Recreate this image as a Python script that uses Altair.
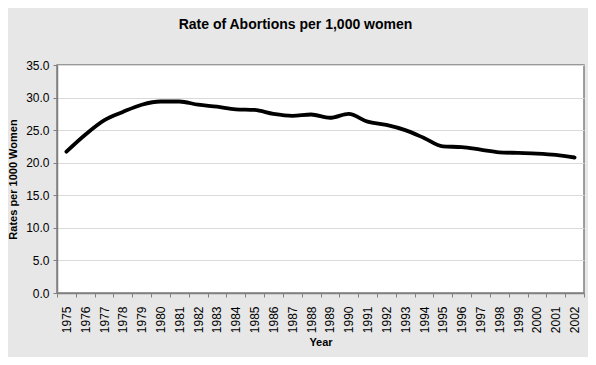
import altair as alt
import pandas as pd

years = ["1975", "1976", "1977", "1978", "1979", "1980", "1981", "1982", "1983", "1984",
         "1985", "1986", "1987", "1988", "1989", "1990", "1991", "1992", "1993", "1994",
         "1995", "1996", "1997", "1998", "1999", "2000", "2001", "2002"]
rates = [21.7, 24.3, 26.5, 27.8, 28.9, 29.4, 29.4, 28.9, 28.6, 28.2,
         28.1, 27.5, 27.2, 27.4, 26.9, 27.5, 26.3, 25.8, 25.0, 23.8,
         22.5, 22.4, 22.0, 21.6, 21.5, 21.4, 21.2, 20.8]
y_ticks = [0, 5, 10, 15, 20, 25, 30, 35]

df = pd.DataFrame({"Year": years, "Rate": rates})

FONT = "Liberation Sans"

chart = alt.Chart(df).mark_line(
    color="black", strokeWidth=3.8, interpolate="monotone", strokeCap="round"
).encode(
    x=alt.X("Year:O", sort=years,
            scale=alt.Scale(type="band", paddingInner=0, paddingOuter=0),
            axis=alt.Axis(title="Year", labelAngle=270, tickBand="extent",
                          labelAlign="right", labelBaseline="middle",
                          labelPadding=9, titlePadding=4, grid=False)),
    y=alt.Y("Rate:Q", scale=alt.Scale(domain=[0, 35], nice=False),
            axis=alt.Axis(title="Rates per 1000 Women", values=y_ticks, format=".1f",
                          labelPadding=4, titlePadding=7, grid=True)),
).properties(
    width=527, height=228,
    autosize=alt.AutoSizeParams(type="none"),
    padding={"left": 49, "top": 57, "right": 4, "bottom": 64},
    title=alt.TitleParams("Rate of Abortions per 1,000 women", fontSize=14,
                          font=FONT, fontWeight="bold", color="black",
                          anchor="middle", dx=-25, offset=27),
).configure(
    background="#E7E7E7",
).configure_view(
    fill="white", stroke="#808080", strokeWidth=1.5,
).configure_axis(
    labelFont=FONT, labelFontSize=12, labelColor="black",
    titleFont=FONT, titleFontSize=11, titleFontWeight="bold", titleColor="black",
    domainColor="#808080", domainWidth=1.5, tickColor="#808080", tickSize=4,
    gridColor="#D9D9D9", gridWidth=1,
)

chart.save("out.html", embed_options={"renderer": "svg", "actions": False})
